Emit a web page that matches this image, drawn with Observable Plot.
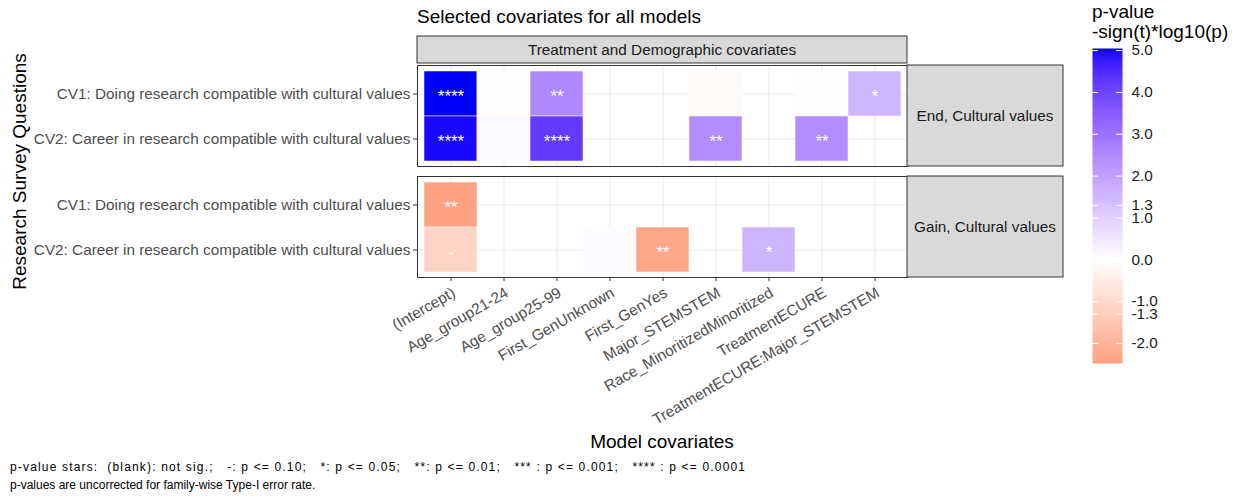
<!DOCTYPE html>
<html><head><meta charset="utf-8">
<script src="https://cdn.jsdelivr.net/npm/d3@7"></script>
<script src="https://cdn.jsdelivr.net/npm/@observablehq/plot@0.6"></script>
<style>
body{margin:0;background:#fff;}
#wrap{position:relative;width:1239px;height:498px;overflow:hidden;background:#fff;}
#wrap svg{position:absolute;}
</style></head><body><div id="wrap"></div>
<script>
// ---------------- data ----------------
const chartTitle = "Selected covariates for all models";
const columnStrip = "Treatment and Demographic covariates";
const panels = ["End, Cultural values", "Gain, Cultural values"];
const questions = [
  "CV1: Doing research compatible with cultural values",
  "CV2: Career in research compatible with cultural values"
];
const covariates = [
  "(Intercept)", "Age_group21-24", "Age_group25-99", "First_GenUnknown", "First_GenYes",
  "Major_STEMSTEM", "Race_MinoritizedMinoritized", "TreatmentECURE", "TreatmentECURE:Major_STEMSTEM"
];
// -sign(t)*log10(p), null = covariate not selected
const endCV1  = [5.05, -0.08, 2.55, null, null, -0.12, null, -0.03, 1.55];
const endCV2  = [4.98,  0.10, 4.20, null, null,  2.45, null,  2.45, null];
const gainCV1 = [-2.48, null, null, null, null, null, null, null, null];
const gainCV2 = [-1.15, null, null, 0.08, -2.35, null, 1.60, null, null];
const legendTicks = [5.0, 4.0, 3.0, 2.0, 1.3, 1.0, 0.0, -1.0, -1.3, -2.0];
const legendTitle = ["p-value", "-sign(t)*log10(p)"];
const xTitle = "Model covariates";
const yTitle = "Research Survey Questions";
const captionLines = [
  "p-value stars:  (blank): not sig.;   -: p <= 0.10;   *: p <= 0.05;   **: p <= 0.01;   *** : p <= 0.001;   **** : p <= 0.0001",
  "p-values are uncorrected for family-wise Type-I error rate."
];

// ---------------- table ----------------
const series = [
  [panels[0], questions[0], endCV1],
  [panels[0], questions[1], endCV2],
  [panels[1], questions[0], gainCV1],
  [panels[1], questions[1], gainCV2]
];
const data = [];
for (const [panel, question, vals] of series)
  vals.forEach((v, i) => { if (v != null) data.push({panel, question, covariate: covariates[i], value: v}); });

function stars(v) {
  const a = Math.abs(v);
  return a >= 4 ? "****" : a >= 3 ? "***" : a >= 2 ? "**" : a >= 1.30103 ? "*" : a >= 1 ? "-" : "";
}

const vmin = d3.min(data, d => d.value), vmax = d3.max(data, d => d.value);
const vabs = Math.max(Math.abs(vmin), Math.abs(vmax));
const colorScale = {type: "linear", domain: [-vabs, 0, vabs], range: ["red", "white", "blue"], interpolate: d3.interpolateLab};

const FONT = "'Liberation Sans', Arial, sans-serif";
const W = 1239, H = 498;
const frameL = 417, frameR = 907, frameT = 65, frameB = 278;
const AX = 15.3, TT = 19;

// ---------------- main plot ----------------
const main = Plot.plot({
  width: W, height: H,
  marginLeft: frameL, marginRight: W - frameR, marginTop: frameT, marginBottom: H - frameB,
  style: {fontFamily: FONT, fontSize: AX + "px", background: "transparent", overflow: "visible"},
  x: {domain: covariates, paddingInner: 0, paddingOuter: 0.1, label: null},
  y: {domain: questions, paddingInner: 0, paddingOuter: 0.1, label: null},
  fy: {domain: panels, paddingInner: 0.09, paddingOuter: 0, axis: null, label: null},
  color: colorScale,
  marks: [
    Plot.ruleX(covariates, {x: d => d, stroke: "#EBEBEB", strokeWidth: 1.1}),
    Plot.ruleY(questions, {y: d => d, stroke: "#EBEBEB", strokeWidth: 1.1}),
    Plot.cell(data, {x: "covariate", y: "question", fy: "panel", fill: "value", stroke: "white", strokeWidth: 0.5, inset: 0}),
    Plot.text(data, {x: "covariate", y: "question", fy: "panel", text: d => stars(d.value), fill: "white", fontSize: 17, dy: 3}),
    Plot.frame({stroke: "#333333"}),
    Plot.axisY({tickSize: 4, tickPadding: 3, stroke: "#333333", fill: "#4D4D4D", fontSize: AX, label: null}),
    Plot.axisX({tickSize: 4, text: null, stroke: "#333333", label: null}),
    Plot.axisX({tickSize: 0, tickPadding: 6, tickRotate: -30, dx: 3, dy: 8, fill: "#4D4D4D", fontSize: AX, label: null})
  ]
});
document.getElementById("wrap").appendChild(main);

// strips and titles
const svg = d3.select(main);
const fy = main.scale("fy");
const g = svg.append("g").attr("font-family", FONT).attr("text-anchor", "start");
// top strip
g.append("rect").attr("x", frameL).attr("y", 36).attr("width", frameR - frameL).attr("height", 27)
  .attr("fill", "#D9D9D9").attr("stroke", "#333333");
g.append("text").attr("x", (frameL + frameR) / 2).attr("y", 49.5).attr("dy", "0.35em")
  .attr("text-anchor", "middle").attr("font-size", AX).attr("fill", "#1A1A1A").text(columnStrip);
// right strips
const stripW = 156;
for (const p of panels) {
  const top = fy.apply(p), h = fy.bandwidth;
  g.append("rect").attr("x", frameR).attr("y", top).attr("width", stripW).attr("height", h)
    .attr("fill", "#D9D9D9").attr("stroke", "#333333");
  g.append("text").attr("x", frameR + stripW / 2).attr("y", top + h / 2).attr("dy", "0.35em")
    .attr("text-anchor", "middle").attr("font-size", AX).attr("fill", "#1A1A1A").text(p);
}
// title
g.append("text").attr("x", frameL).attr("y", 23).attr("text-anchor", "start")
  .attr("font-size", TT).attr("fill", "#000").text(chartTitle);
// axis titles
g.append("text").attr("x", (frameL + frameR) / 2).attr("y", 448).attr("text-anchor", "middle")
  .attr("font-size", TT).attr("fill", "#000").text(xTitle);
g.append("text").attr("transform", `translate(26,${(frameT + frameB) / 2}) rotate(-90)`).attr("text-anchor", "middle")
  .attr("font-size", TT).attr("fill", "#000").text(yTitle);
// caption
captionLines.forEach((t, i) => {
  const el = g.append("text").attr("x", 10).attr("y", 471 + i * 18).attr("text-anchor", "start")
    .attr("font-size", 12).attr("fill", "#000")
    .attr("xml:space", "preserve").style("white-space", "pre").text(t);
  if (i === 0) el.attr("textLength", 735).attr("lengthAdjust", "spacing");
});
// legend title
legendTitle.forEach((t, i) => {
  g.append("text").attr("x", 1092).attr("y", 18 + i * 20).attr("text-anchor", "start")
    .attr("font-size", TT).attr("fill", "#000").text(t);
});

// ---------------- legend colorbar ----------------
const LW = 147, LH = 380, barW = 30, barT = 48, barB = 363;
const legend = Plot.plot({
  width: LW, height: LH,
  marginLeft: 0, marginRight: LW - barW, marginTop: barT, marginBottom: LH - barB,
  style: {fontFamily: FONT, fontSize: AX + "px", background: "transparent", overflow: "visible"},
  x: {domain: [0, 1], axis: null},
  y: {domain: [vmin, vmax], label: null, axis: null},
  color: colorScale,
  marks: [
    Plot.raster({x1: 0, x2: 1, y1: vmin, y2: vmax, fill: (x, y) => y, width: 1, height: 320, imageRendering: "auto"}),
    Plot.ruleY(legendTicks, {y: d => d, x1: 0, x2: 0.2, stroke: "white", strokeWidth: 1}),
    Plot.ruleY(legendTicks, {y: d => d, x1: 0.8, x2: 1, stroke: "white", strokeWidth: 1}),
    Plot.axisY(legendTicks, {anchor: "right", tickSize: 0, tickPadding: 9, tickFormat: d => d.toFixed(1), fill: "#1A1A1A", fontSize: AX, label: null})
  ]
});
legend.style.left = "1092px";
legend.style.top = "0px";
document.getElementById("wrap").appendChild(legend);
</script></body></html>
